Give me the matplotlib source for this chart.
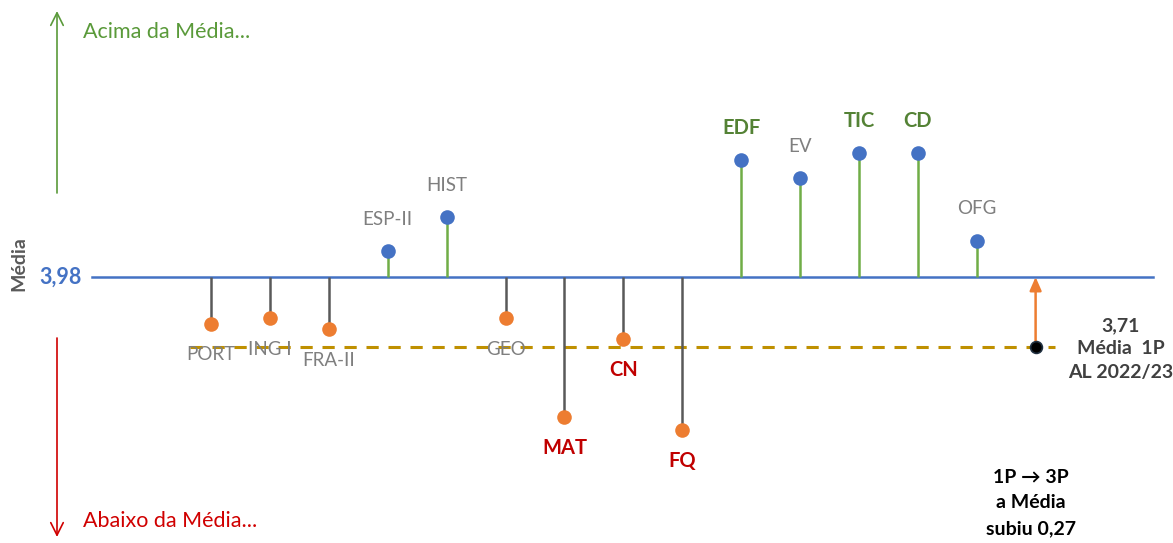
import matplotlib
matplotlib.use('Agg')
import matplotlib.pyplot as plt

# ---- data ----
subjects = ['PORT', 'ING I', 'FRA-II', 'ESP-II', 'HIST', 'GEO', 'MAT', 'CN', 'FQ',
            'EDF', 'EV', 'TIC', 'CD', 'OFG']
values = [3.80, 3.82, 3.78, 4.08, 4.21, 3.82, 3.44, 3.74, 3.39,
          4.43, 4.36, 4.46, 4.46, 4.12]
highlight = ['', '', '', '', '', '', 'low', 'low', 'low',
             'high', '', 'high', 'high', '']
mean_3p = 3.98
mean_1p = 3.71
mean_3p_label = '3,98'
mean_1p_label = '3,71\nMédia  1P\nAL 2022/23'
change_label = '1P \u2192 3P\na Média\nsubiu 0,27'

FONT = ['Lato', 'DejaVu Sans']
plt.rcParams['font.family'] = FONT

W, H = 1173, 543
fig = plt.figure(figsize=(W / 100, H / 100), dpi=100)
ax = fig.add_axes([0, 0, 1, 1])
ax.axis('off')

# pixel mapping for layout
X0, DX = 211.0, 58.9
Y0, DY = 277.0, 259.3
ax.set_xlim(1 - X0 / DX, 1 + (W - X0) / DX)
ax.set_ylim(mean_3p - (H - Y0) / DY, mean_3p + Y0 / DY)

def px(xp):
    return 1 + (xp - X0) / DX

def py(yp):
    return mean_3p - (yp - Y0) / DY

BLUE = '#4472C4'
ORANGE = '#ED7D31'
GREEN_STEM = '#70AD47'
GRAY_STEM = '#595959'
GOLD = '#BF9000'
GREEN_TXT = '#548235'
RED_TXT = '#C00000'
GRAY_TXT = '#7F7F7F'

xs = list(range(1, len(subjects) + 1))

# dashed line for 1P mean
ax.plot([px(190), px(1055)], [mean_1p, mean_1p], color=GOLD, lw=2.2,
        dashes=(4, 3.2), zorder=1)

# baseline (3P mean)
ax.plot([px(92), px(1153)], [mean_3p, mean_3p], color=BLUE, lw=1.8, zorder=2)

for x, v, name, hl in zip(xs, values, subjects, highlight):
    above = v >= mean_3p
    ax.vlines(x, mean_3p, v, color=GREEN_STEM if above else GRAY_STEM,
              lw=1.8, zorder=3)
    ax.plot(x, v, 'o', ms=10.5, color=BLUE if above else ORANGE,
            mec='none', zorder=4)
    if hl == 'high':
        col, fw, fs = GREEN_TXT, 'bold', 14.5
    elif hl == 'low':
        col, fw, fs = RED_TXT, 'bold', 14.5
    else:
        col, fw, fs = GRAY_TXT, 'normal', 13.5
    off = 23 if above else -22.5
    ax.annotate(name, (x, v), xytext=(0, off), textcoords='offset points',
                ha='center', va='center', fontsize=fs, color=col,
                fontweight=fw, zorder=5)

# 1P mean point and arrow
x_m = len(subjects) + 1
ax.annotate('', xy=(x_m, mean_3p), xytext=(x_m, mean_1p),
            arrowprops=dict(arrowstyle='-|>,head_length=0.8,head_width=0.35',
                            color=ORANGE, lw=1.8, shrinkA=0, shrinkB=0),
            zorder=5)
ax.plot(x_m, mean_1p, 'o', ms=8.5, color='black', mec='#203040', mew=1.2,
        zorder=6)

ax.text(px(1121), py(349), mean_1p_label, ha='center', va='center',
        fontsize=14, fontweight='bold', color='#404040', linespacing=1.45)
ax.text(px(1031), py(503), change_label, ha='center', va='center',
        fontsize=14, fontweight='bold', color='black', linespacing=1.6)

# left decorations
ax.annotate('', xy=(px(57), py(11)), xytext=(px(57), py(193)),
            arrowprops=dict(arrowstyle='->,head_length=0.9,head_width=0.45',
                            color='#5A9A3A', lw=1.2, shrinkA=0, shrinkB=0))
ax.annotate('', xy=(px(57), py(537)), xytext=(px(57), py(338)),
            arrowprops=dict(arrowstyle='->,head_length=0.9,head_width=0.45',
                            color='#D00000', lw=1.2, shrinkA=0, shrinkB=0))
ax.text(px(83), py(32), 'Acima da Média...', ha='left', va='center',
        fontsize=15.5, color='#5A9A3A')
ax.text(px(83), py(521), 'Abaixo da Média...', ha='left', va='center',
        fontsize=15.5, color='#D00000')
ax.text(px(19), py(264), 'Média', rotation=90, ha='center', va='center',
        fontsize=14, fontweight='bold', color='#595959')
ax.text(px(61), mean_3p, mean_3p_label, ha='center', va='center',
        fontsize=15.5, fontweight='bold', color=BLUE)

fig.savefig('out.png', dpi=100)
